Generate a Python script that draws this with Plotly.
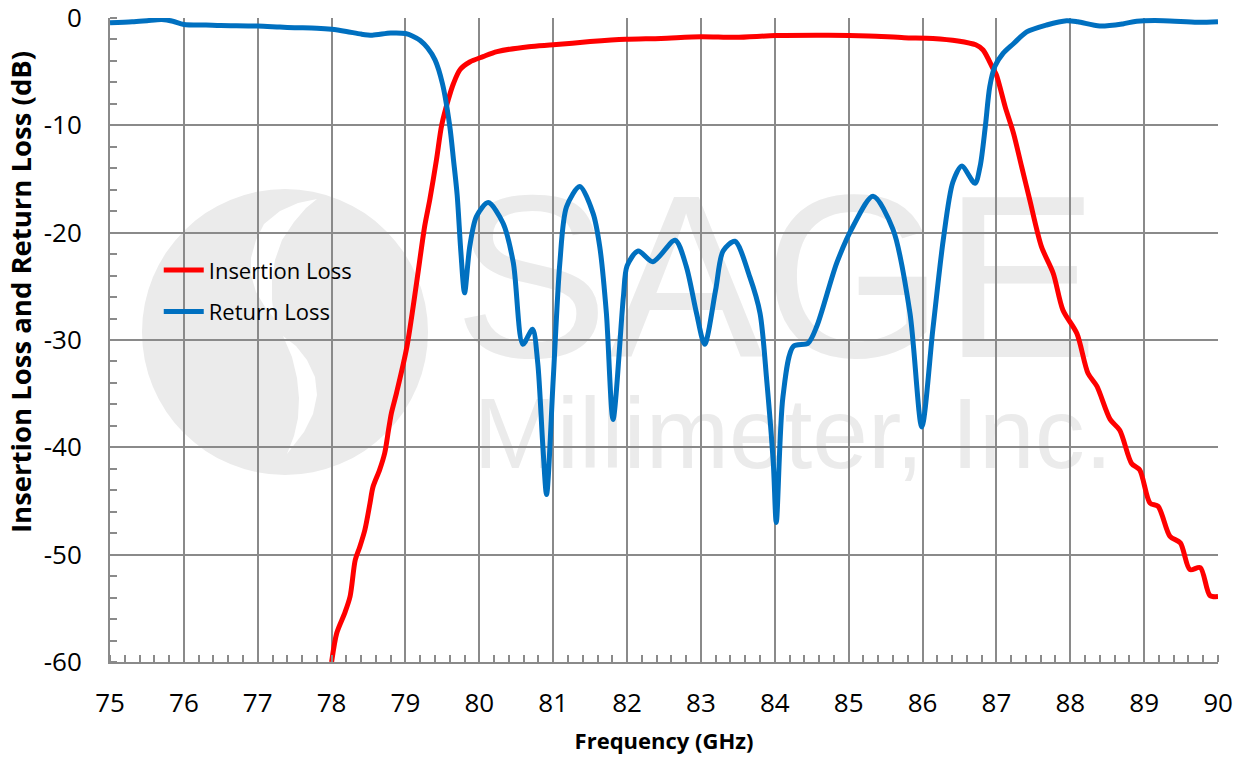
import plotly.graph_objects as go

# ---------------- data ----------------
rl_freq = [75.0, 75.3, 75.5, 75.7, 75.85, 76.0, 76.3, 76.5, 77.0, 77.3, 77.5, 77.8, 78.0, 78.2, 78.4,
           78.55, 78.8, 79.0, 79.1, 79.2, 79.3, 79.4, 79.5, 79.6, 79.65, 79.7, 79.75, 79.8, 79.87,
           79.96, 80.12, 80.32, 80.46, 80.59, 80.72, 80.79, 80.86, 80.91, 81.0, 81.09, 81.18, 81.36,
           81.54, 81.63, 81.72, 81.81, 81.95, 82.0, 82.15, 82.35, 82.65, 82.8, 82.94, 83.05, 83.2,
           83.3, 83.46, 83.66, 83.8, 83.89, 83.98, 84.02, 84.11, 84.25, 84.45, 84.57, 84.84, 85.06,
           85.33, 85.6, 85.83, 85.99, 86.14, 86.28, 86.41, 86.53, 86.71, 86.78, 86.85, 86.91, 86.98,
           87.09, 87.23, 87.41, 87.68, 87.95, 88.1, 88.4, 88.71, 88.9, 89.26, 89.72, 90.0]
rl_db = [-0.45, -0.35, -0.25, -0.15, -0.3, -0.6, -0.65, -0.7, -0.75, -0.85, -0.9, -0.95, -1.05, -1.25, -1.5,
         -1.6, -1.4, -1.45, -1.7, -2.1, -2.8, -3.9, -6.1, -10.1, -13.2, -16.5, -21.8, -25.6, -21.3,
         -18.5, -17.2, -19.1, -22.8, -30.4, -29.0, -32.1, -39.9, -44.4, -33.7, -22.8, -17.6, -15.7,
         -18.2, -21.3, -27.5, -37.4, -26.0, -23.1, -21.7, -22.7, -20.7, -23.1, -27.5, -30.4, -25.3,
         -21.7, -20.8, -24.1, -27.5, -33.7, -41.5, -47.0, -35.3, -30.6, -30.3, -28.7, -22.8, -19.4,
         -16.6, -19.7, -27.5, -38.1, -29.0, -20.7, -15.3, -13.8, -15.4, -13.8, -10.1, -6.4, -4.5,
         -3.3, -2.4, -1.3, -0.65, -0.25, -0.35, -0.75, -0.55, -0.3, -0.25, -0.4, -0.35]

il_freq = [78.0, 78.07, 78.18, 78.25, 78.32, 78.38, 78.45, 78.52, 78.56, 78.65, 78.72, 78.77, 78.81,
           78.88, 79.02, 79.15, 79.26, 79.33, 79.42, 79.49, 79.58, 79.65, 79.74, 79.87, 80.05, 80.24,
           80.67, 81.0, 81.5, 81.98, 82.46, 83.0, 83.47, 84.01, 84.73, 85.27, 85.75, 86.14, 86.48,
           86.72, 86.82, 86.96, 87.0, 87.12, 87.23, 87.34, 87.45, 87.61, 87.77, 87.9, 88.09, 88.24,
           88.36, 88.54, 88.67, 88.83, 88.94, 89.08, 89.19, 89.35, 89.49, 89.62, 89.76, 89.89, 90.0]
il_db = [-60.0, -57.3, -55.4, -53.9, -50.5, -49.3, -47.7, -45.2, -43.7, -42.1, -40.5, -38.4, -36.8,
         -34.9, -30.6, -24.7, -19.4, -16.9, -13.2, -10.0, -7.6, -6.1, -4.8, -4.1, -3.6, -3.13,
         -2.67, -2.5, -2.2, -1.98, -1.9, -1.74, -1.8, -1.64, -1.6, -1.67, -1.83, -1.9, -2.14,
         -2.5, -2.98, -4.8, -5.3, -8.3, -10.7, -13.8, -16.9, -21.3, -23.8, -27.2, -29.4, -33.1,
         -34.3, -37.4, -38.4, -41.5, -42.1, -45.2, -45.5, -48.3, -48.9, -51.4, -51.2, -53.8, -53.9]

x_ticks = [75, 76, 77, 78, 79, 80, 81, 82, 83, 84, 85, 86, 87, 88, 89, 90]
y_ticks = [0, -10, -20, -30, -40, -50, -60]

# ---------------- layout helpers (pixel -> data for watermark decoration) ----------------
X0, X1, Y0, Y1 = 110, 1218, 18, 662


def px2x(px):
    return 75 + (px - X0) * 15 / (X1 - X0)


def px2y(py):
    return -(py - Y0) * 60 / (Y1 - Y0)


def path_from_px(pts):
    return "M " + " L ".join(f"{px2x(a):.4f},{px2y(b):.4f}" for a, b in pts) + " Z"


WM = "#ebebeb"
FONT = "Open Sans"
GRID = "#8a8a8a"

fig = go.Figure()

fig.add_trace(go.Scatter(x=il_freq, y=il_db, mode="lines", name="Insertion Loss",
                         line=dict(color="#ff0000", width=5, shape="spline", smoothing=0.8),
                         legendgroup="a"))
fig.add_trace(go.Scatter(x=rl_freq, y=rl_db, mode="lines", name="Return Loss",
                         line=dict(color="#0070c0", width=5, shape="spline", smoothing=0.8),
                         legendgroup="b"))

shapes = []
# logo circle
shapes.append(dict(type="circle", xref="x", yref="y", layer="below",
                   x0=px2x(142), x1=px2x(428), y0=px2y(189), y1=px2y(475),
                   fillcolor=WM, line=dict(width=0)))
# white crescents of the logo
upper = [(317, 199), (298, 203), (280, 211), (264, 224), (256, 240), (251, 258), (251, 275),
         (256, 292), (265, 307), (274, 318), (272, 300), (272, 280), (275, 260), (282, 240),
         (294, 222), (306, 208)]
lower = [(283, 336), (296, 346), (307, 360), (315, 377), (317, 395), (313, 414), (304, 432),
         (287, 454), (294, 436), (298, 418), (299, 398), (297, 378), (292, 357)]
shapes.append(dict(type="path", xref="x", yref="y", layer="below", path=path_from_px(upper),
                   fillcolor="white", line=dict(width=0)))
shapes.append(dict(type="path", xref="x", yref="y", layer="below", path=path_from_px(lower),
                   fillcolor="white", line=dict(width=0)))
# watermark texts
shapes.append(dict(type="rect", xref="x", yref="y", layer="below",
                   x0=px2x(452), x1=px2x(1100), y0=px2y(166), y1=px2y(342),
                   fillcolor="rgba(0,0,0,0)", line=dict(width=0),
                   label=dict(text="SAGE", textposition="middle center",
                              font=dict(family="Liberation Sans", size=232, color=WM))))
shapes.append(dict(type="rect", xref="x", yref="y", layer="below",
                   x0=px2x(458), x1=px2x(1128), y0=px2y(388), y1=px2y(460),
                   fillcolor="rgba(0,0,0,0)", line=dict(width=0),
                   label=dict(text="Millimeter, Inc.", textposition="middle center",
                              font=dict(family="Liberation Sans", size=100, color=WM))))

fig.update_layout(
    width=1244, height=760,
    margin=dict(l=X0, r=1244 - X1, t=Y0, b=760 - Y1, pad=0, autoexpand=False),
    paper_bgcolor="white", plot_bgcolor="white",
    font=dict(family=FONT, color="black"),
    shapes=shapes,
    showlegend=True,
    legend=dict(x=0.044, y=0.641, xanchor="left", yanchor="top", bgcolor="rgba(0,0,0,0)",
                font=dict(family=FONT, size=22, color="black"), traceorder="grouped",
                tracegroupgap=10, itemwidth=40),
    xaxis=dict(range=[75, 90], tickvals=x_ticks, ticktext=[str(v) for v in x_ticks],
               automargin=False, ticklabeloverflow="allow",
               showgrid=True, gridcolor=GRID, gridwidth=2, showline=True, linecolor=GRID,
               linewidth=2, ticks="", tickfont=dict(family=FONT, size=26, color="black"),
               ticklabelstandoff=17,
               minor=dict(dtick=0.2, tick0=75, ticks="inside", ticklen=7, tickcolor=GRID,
                          tickwidth=2, showgrid=False),
               title=dict(text="<b>Frequency (GHz)</b>", font=dict(family=FONT, size=22), standoff=14),
               zeroline=False),
    yaxis=dict(range=[-60, 0], tickvals=y_ticks, ticktext=[str(v) for v in y_ticks],
               automargin=False, ticklabeloverflow="allow",
               showgrid=True, gridcolor=GRID, gridwidth=2, showline=True, linecolor=GRID,
               linewidth=2, ticks="", tickfont=dict(family=FONT, size=26, color="black"),
               ticklabelstandoff=21,
               minor=dict(dtick=2, tick0=0, ticks="inside", ticklen=7, tickcolor=GRID,
                          tickwidth=2, showgrid=False),
               zeroline=False),
    annotations=[dict(text="<b>Insertion Loss and Return Loss (dB)</b>", textangle=-90,
                      xref="paper", yref="paper", x=(20 - X0) / (X1 - X0),
                      y=1 - (292 - Y0) / (Y1 - Y0), xanchor="center", yanchor="middle",
                      showarrow=False, font=dict(family=FONT, size=27.5, color="black"))],
)

fig.write_html("out.html", config={"displayModeBar": False},
               post_script="document.body.style.margin='0px';")
